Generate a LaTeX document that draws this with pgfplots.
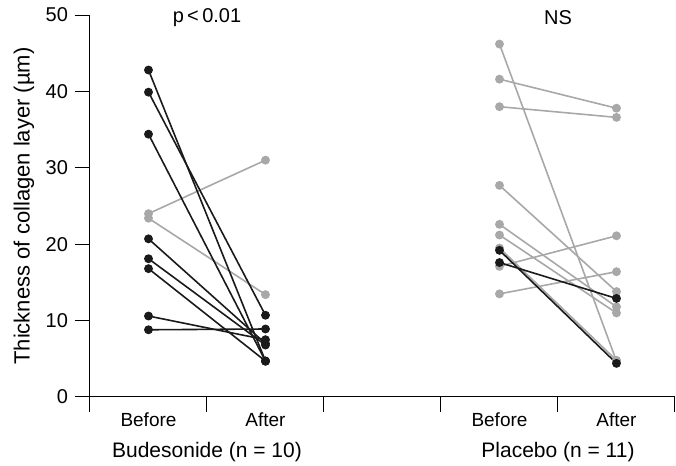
\documentclass[border=0pt]{standalone}
\usepackage{pgfplots}
\pgfplotsset{compat=1.18}
\usepackage{fontspec}
\setmainfont{Liberation Sans}
\definecolor{dk}{HTML}{1A1A1A}
\definecolor{lt}{HTML}{A8A8A8}
\pgfplotsset{
  blk/.style={dk, line width=0.8pt, mark=*, mark size=1.8pt, mark options={solid}},
  gry/.style={lt, line width=0.8pt, mark=*, mark size=1.8pt, mark options={solid}},
}
\begin{document}
\begin{tikzpicture}
\begin{axis}[
  name=ax,
  width=292.5pt, height=191pt, scale only axis,
  xmin=0, xmax=5, ymin=0, ymax=50,
  axis lines=left, axis line style={-, line width=0.5pt},
  xtick={0,1,2,3,4,5}, xticklabels={},
  ytick={0,10,20,30,40,50},
  tick align=outside, major tick length=7.5pt,
  tick style={line width=0.5pt, black},
  ticklabel style={font=\fontsize{10}{12}\selectfont},
  /pgf/number format/assume math mode=true,
  ylabel={Thickness of collagen layer (µm)},
  ylabel style={at={(axis description cs:-0.113,0.5)}, anchor=center, font=\fontsize{11}{13}\selectfont},
  clip=false,
]
% Budesonide
\addplot[gry] coordinates {(0.5,24.0) (1.5,31.0)};
\addplot[gry] coordinates {(0.5,23.4) (1.5,13.4)};
\addplot[blk] coordinates {(0.5,42.8) (1.5,4.7)};
\addplot[blk] coordinates {(0.5,39.9) (1.5,10.7)};
\addplot[blk] coordinates {(0.5,34.4) (1.5,4.7)};
\addplot[blk] coordinates {(0.5,20.7) (1.5,7.0)};
\addplot[blk] coordinates {(0.5,18.1) (1.5,6.8)};
\addplot[blk] coordinates {(0.5,16.8) (1.5,4.7)};
\addplot[blk] coordinates {(0.5,10.6) (1.5,7.5)};
\addplot[blk] coordinates {(0.5,8.8) (1.5,8.9)};
% Placebo
\addplot[gry] coordinates {(3.5,46.2) (4.5,4.7)};
\addplot[gry] coordinates {(3.5,41.6) (4.5,37.8)};
\addplot[gry] coordinates {(3.5,38.0) (4.5,36.6)};
\addplot[gry] coordinates {(3.5,27.7) (4.5,13.8)};
\addplot[gry] coordinates {(3.5,22.6) (4.5,11.8)};
\addplot[gry] coordinates {(3.5,21.2) (4.5,11.0)};
\addplot[gry] coordinates {(3.5,19.5) (4.5,4.8)};
\addplot[gry] coordinates {(3.5,17.1) (4.5,21.1)};
\addplot[gry] coordinates {(3.5,13.5) (4.5,16.4)};
\addplot[blk] coordinates {(3.5,19.2) (4.5,4.4)};
\addplot[blk] coordinates {(3.5,17.6) (4.5,12.9)};
% labels
\node[font=\fontsize{9.5}{11}\selectfont] at ([yshift=-11.5pt]axis cs:0.5,0) {Before};
\node[font=\fontsize{9.5}{11}\selectfont] at ([yshift=-11.5pt]axis cs:1.5,0) {After};
\node[font=\fontsize{9.5}{11}\selectfont] at ([yshift=-11.5pt]axis cs:3.5,0) {Before};
\node[font=\fontsize{9.5}{11}\selectfont] at ([yshift=-11.5pt]axis cs:4.5,0) {After};
\node[font=\fontsize{10.5}{12}\selectfont] at ([yshift=-27.5pt]axis cs:1,0) {Budesonide (n = 10)};
\node[font=\fontsize{10.5}{12}\selectfont] at ([yshift=-27.5pt]axis cs:4,0) {Placebo (n = 11)};
\node[font=\fontsize{10}{12}\selectfont] at ([yshift=-1.5pt]axis cs:1,50) {p\thinspace<\thinspace0.01};
\node[font=\fontsize{10}{12}\selectfont] at ([yshift=-1.5pt]axis cs:4,50) {NS};
\end{axis}
\pgfresetboundingbox
\path[use as bounding box] ([shift={(-45pt,-34.5pt)}]ax.south west) rectangle ([shift={(293pt,198.5pt)}]ax.south west);
\end{tikzpicture}
\end{document}
